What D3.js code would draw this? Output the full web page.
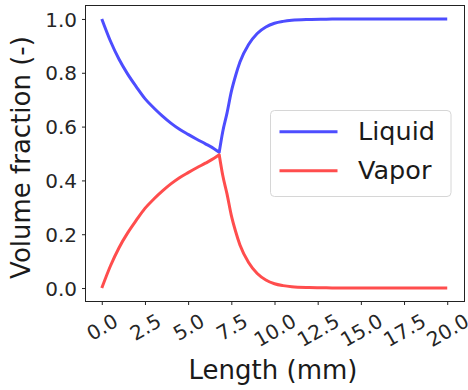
<!DOCTYPE html>
<html>
<head>
<meta charset="utf-8">
<script src="https://cdn.jsdelivr.net/npm/d3@7"></script>
<style>
  html, body { margin: 0; padding: 0; background: #fff; }
  svg { display: block; font-family: "DejaVu Sans", sans-serif; }
</style>
</head>
<body>
<svg id="chart" width="468" height="390"></svg>
<script>
// Axial position along the channel (mm)
const lengthMm = [0, 0.5, 1, 1.5, 2, 2.5, 3, 3.5, 4, 4.5, 5, 5.5, 6, 6.5, 6.8,
                  7, 7.25, 7.5, 7.75, 8, 8.5, 9, 9.5, 10, 10.5, 11, 12, 13, 14, 15, 16, 17, 18, 19, 20];
// Volume fraction of each phase
const liquid = [1.0, 0.918, 0.85, 0.795, 0.748, 0.704, 0.67, 0.64, 0.613, 0.59, 0.571, 0.553, 0.536, 0.518, 0.505,
                0.58, 0.65, 0.73, 0.79, 0.84, 0.905, 0.946, 0.97, 0.984, 0.991, 0.995, 0.998, 0.999, 1, 1, 1, 1, 1, 1, 1];
const vapor = [0, 0.082, 0.15, 0.205, 0.252, 0.296, 0.33, 0.36, 0.387, 0.41, 0.429, 0.447, 0.464, 0.482, 0.495,
               0.42, 0.35, 0.27, 0.21, 0.16, 0.095, 0.054, 0.03, 0.016, 0.009, 0.005, 0.002, 0.001, 0, 0, 0, 0, 0, 0, 0];
// Index where the profile switches from decay to recovery
const kinkIndex = 14;

const xTicks = [0, 2.5, 5, 7.5, 10, 12.5, 15, 17.5, 20];
const yTicks = [0, 0.2, 0.4, 0.6, 0.8, 1.0];

const series = [
  { name: "Liquid", values: liquid, color: "rgb(77,77,255)" },
  { name: "Vapor", values: vapor, color: "rgb(255,77,77)" }
];

const plot = { left: 85.5, right: 464.5, top: 5.5, bottom: 301.5 };

const svg = d3.select("#chart");

const x = d3.scaleLinear().domain([-1, 21]).range([plot.left - 1, plot.right]);
const y = d3.scaleLinear().domain([-0.05, 1.05]).range([plot.bottom, plot.top]);

// Curves: each smooth branch drawn separately, joined at the kink into one path
const line = d3.line()
  .x(d => x(d[0]))
  .y(d => y(d[1]))
  .curve(d3.curveMonotoneX);

function pathFor(values) {
  const pts = lengthMm.map((l, i) => [l, values[i]]);
  const a = line(pts.slice(0, kinkIndex + 1));
  const b = line(pts.slice(kinkIndex)).replace(/^M/, "L");
  return a + b;
}

const clipId = "plot-clip";
svg.append("clipPath").attr("id", clipId)
  .append("rect")
  .attr("x", plot.left).attr("y", plot.top)
  .attr("width", plot.right - plot.left).attr("height", plot.bottom - plot.top);

svg.append("g").attr("clip-path", `url(#${clipId})`)
  .selectAll("path.series")
  .data(series)
  .join("path")
  .attr("class", "series")
  .attr("d", d => pathFor(d.values))
  .attr("fill", "none")
  .attr("stroke", d => d.color)
  .attr("stroke-width", 3)
  .attr("stroke-linejoin", "round")
  .attr("stroke-linecap", "butt");

// Axes
const xAxis = d3.axisBottom(x).tickValues(xTicks).tickSize(3.5).tickPadding(3.5)
  .tickFormat(d3.format(".1f"));
const yAxis = d3.axisLeft(y).tickValues(yTicks).tickSize(3.5).tickPadding(5)
  .tickFormat(d3.format(".1f"));

const gx = svg.append("g").attr("transform", `translate(0,${plot.bottom})`).call(xAxis);
const gy = svg.append("g").attr("transform", `translate(${plot.left},0)`).call(yAxis);

[gx, gy].forEach(g => {
  g.select(".domain").remove();
  g.selectAll(".tick line").attr("stroke", "#222").attr("stroke-width", 1);
  g.selectAll(".tick text").attr("fill", "#262626").attr("font-size", 20)
    .attr("font-family", "DejaVu Sans, sans-serif");
});

gy.selectAll(".tick text").attr("dy", "0.36em");

// Rotated x tick labels, centred under each tick
gx.selectAll(".tick text").each(function () {
  const t = d3.select(this);
  const w = this.getComputedTextLength();
  const cy = 7.5 + (w * 0.5 + 20) / 2;
  t.attr("y", null).attr("dy", "0.36em")
    .attr("text-anchor", "middle")
    .attr("transform", `translate(0,${cy}) rotate(-30)`);
});

// Frame
svg.append("rect")
  .attr("x", plot.left).attr("y", plot.top)
  .attr("width", plot.right - plot.left).attr("height", plot.bottom - plot.top)
  .attr("fill", "none").attr("stroke", "#222").attr("stroke-width", 1);

// Axis titles
svg.append("text")
  .attr("x", (plot.left + plot.right) / 2 - 2).attr("y", 379)
  .attr("text-anchor", "middle").attr("font-size", 26).attr("fill", "#1a1a1a")
  .text("Length (mm)");

svg.append("text")
  .attr("transform", `translate(21,${(plot.top + plot.bottom) / 2 + 4}) rotate(-90)`)
  .attr("text-anchor", "middle").attr("dy", "0.36em")
  .attr("font-size", 26).attr("fill", "#1a1a1a")
  .text("Volume fraction (-)");

// Legend
const legend = svg.append("g");
legend.append("rect")
  .attr("x", 270.5).attr("y", 110.5).attr("width", 180.5).attr("height", 86)
  .attr("rx", 4).attr("fill", "#fff").attr("fill-opacity", 0.8)
  .attr("stroke", "#d6d6d6").attr("stroke-width", 1);

const items = legend.selectAll("g.item").data(series).join("g")
  .attr("class", "item")
  .attr("transform", (d, i) => `translate(0,${131.7 + i * 39})`);
items.append("line")
  .attr("x1", 279.5).attr("x2", 337.5).attr("y1", 0).attr("y2", 0)
  .attr("stroke", d => d.color).attr("stroke-width", 3);
items.append("text")
  .attr("x", 358).attr("y", 8.5)
  .attr("font-size", 25.5).attr("fill", "#1a1a1a")
  .text(d => d.name);
</script>
</body>
</html>
